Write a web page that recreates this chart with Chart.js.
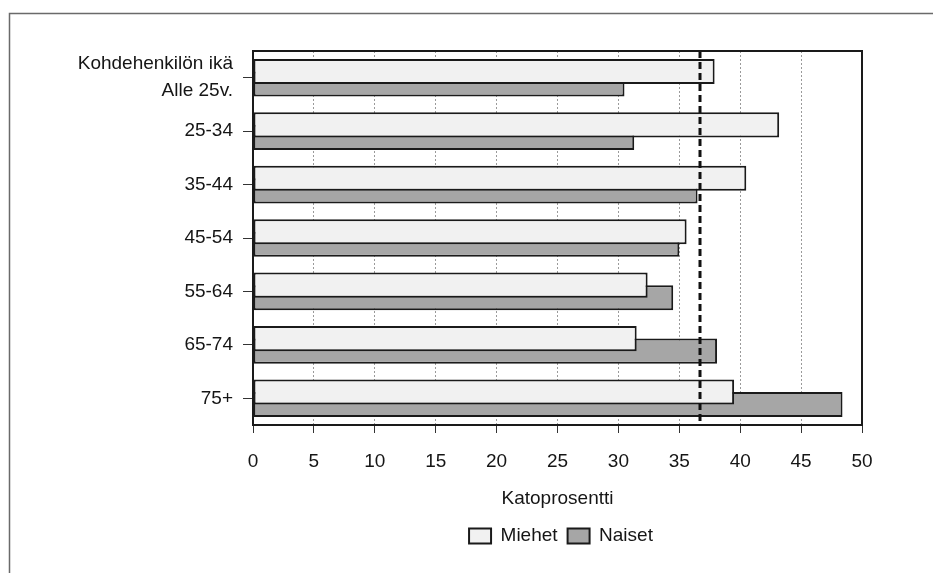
<!DOCTYPE html>
<html>
<head>
<meta charset="utf-8">
<script src="https://cdn.jsdelivr.net/npm/chart.js@4/dist/chart.umd.min.js"></script>
<style>
  html, body { margin: 0; padding: 0; background: #ffffff; }
  #wrap { position: relative; width: 933px; height: 573px; }
  canvas { display: block; }
</style>
</head>
<body>
<div id="wrap"><canvas id="c" width="933" height="573"></canvas></div>
<script>
// ---- data ----
const ageCaption = "Kohdehenkilön ikä";
const categories = ["Alle 25v.", "25-34", "35-44", "45-54", "55-64", "65-74", "75+"];
const miehet = [37.9, 43.2, 40.5, 35.6, 32.4, 31.5, 39.5];
const naiset = [30.5, 31.3, 36.5, 35.0, 34.5, 38.1, 48.4];
const averageRate = 36.7;
const xTicks = [0, 5, 10, 15, 20, 25, 30, 35, 40, 45, 50];
const xTitle = "Katoprosentti";
const seriesNames = ["Miehet", "Naiset"];

const FONT = "'Liberation Sans', Arial, sans-serif";
const FS = 19;
const TEXT = '#151515';

const yLabels = categories.map((c, i) => i === 0 ? [ageCaption, c] : c);

const framePlugin = {
  id: 'framePlugin',
  beforeDraw(chart) {
    const ctx = chart.ctx;
    ctx.save();
    ctx.strokeStyle = '#6a6a6a';
    ctx.lineWidth = 1.5;
    ctx.beginPath();
    ctx.moveTo(9.5, 573);
    ctx.lineTo(9.5, 13.5);
    ctx.lineTo(933, 13.5);
    ctx.stroke();
    ctx.restore();
  },
  afterLayout(chart) {
    const lg = chart.legend;
    if (!lg) return;
    const dx = 561 - (lg.left + lg.right) / 2;
    const pad = lg.options.labels.padding;
    const itemH = Math.max(FS, lg.options.labels.boxHeight || 0);
    const dy = 536 - (lg.top + pad + itemH / 2);
    lg.left += dx; lg.right += dx;
    lg.top += dy; lg.bottom += dy;
  },
  afterDatasetsDraw(chart) {
    const ctx = chart.ctx;
    const a = chart.chartArea;
    const xs = chart.scales.x;
    ctx.save();
    // dashed average line
    const xp = xs.getPixelForValue(averageRate);
    ctx.strokeStyle = '#111';
    ctx.lineWidth = 3;
    ctx.setLineDash([7, 4]);
    ctx.beginPath();
    ctx.moveTo(xp, a.top);
    ctx.lineTo(xp, a.bottom);
    ctx.stroke();
    ctx.setLineDash([]);
    // plot frame
    ctx.strokeStyle = '#1a1a1a';
    ctx.lineWidth = 2;
    ctx.strokeRect(a.left, a.top, a.right - a.left, a.bottom - a.top);
    ctx.restore();
  }
};

new Chart(document.getElementById('c'), {
  type: 'bar',
  data: {
    labels: yLabels,
    datasets: [
      {
        label: seriesNames[0],
        data: miehet,
        backgroundColor: '#f1f1f1',
        borderColor: '#1a1a1a',
        borderWidth: 2,
        borderSkipped: false,
        categoryPercentage: 0.47,
        barPercentage: 2.0
      },
      {
        label: seriesNames[1],
        data: naiset,
        backgroundColor: '#a6a6a6',
        borderColor: '#1a1a1a',
        borderWidth: 2,
        borderSkipped: false,
        categoryPercentage: 0.47,
        barPercentage: 2.0
      }
    ]
  },
  options: {
    indexAxis: 'y',
    responsive: false,
    animation: false,
    layout: { padding: { left: 0, right: 71, top: 51, bottom: 12 } },
    plugins: {
      legend: {
        position: 'bottom',
        labels: {
          color: TEXT,
          font: { family: FONT, size: FS },
          boxWidth: 22,
          boxHeight: 15,
          padding: 10
        }
      },
      tooltip: { enabled: false }
    },
    scales: {
      x: {
        min: 0,
        max: 50,
        afterBuildTicks(scale) { scale.ticks = xTicks.map(v => ({ value: v })); },
        afterFit(scale) { scale.height = 97; },
        ticks: {
          color: TEXT,
          font: { family: FONT, size: FS },
          padding: 17,
          maxRotation: 0,
          autoSkip: false
        },
        grid: {
          color: '#9a9a9a',
          lineWidth: 1,
          tickColor: '#333',
          tickLength: 8,
          drawTicks: true
        },
        border: { display: false, dash: [2, 2] },
        title: {
          display: true,
          text: xTitle,
          color: TEXT,
          font: { family: FONT, size: FS },
          padding: { top: 0, bottom: 12 }
        }
      },
      y: {
        afterFit(scale) { scale.width = 253; },
        ticks: {
          color: TEXT,
          font: { family: FONT, size: FS, lineHeight: 1.42 },
          padding: 10,
          autoSkip: false
        },
        grid: {
          offset: false,
          drawOnChartArea: false,
          tickColor: '#333',
          tickLength: 10
        },
        border: { display: false }
      }
    }
  },
  plugins: [framePlugin]
});
</script>
</body>
</html>
